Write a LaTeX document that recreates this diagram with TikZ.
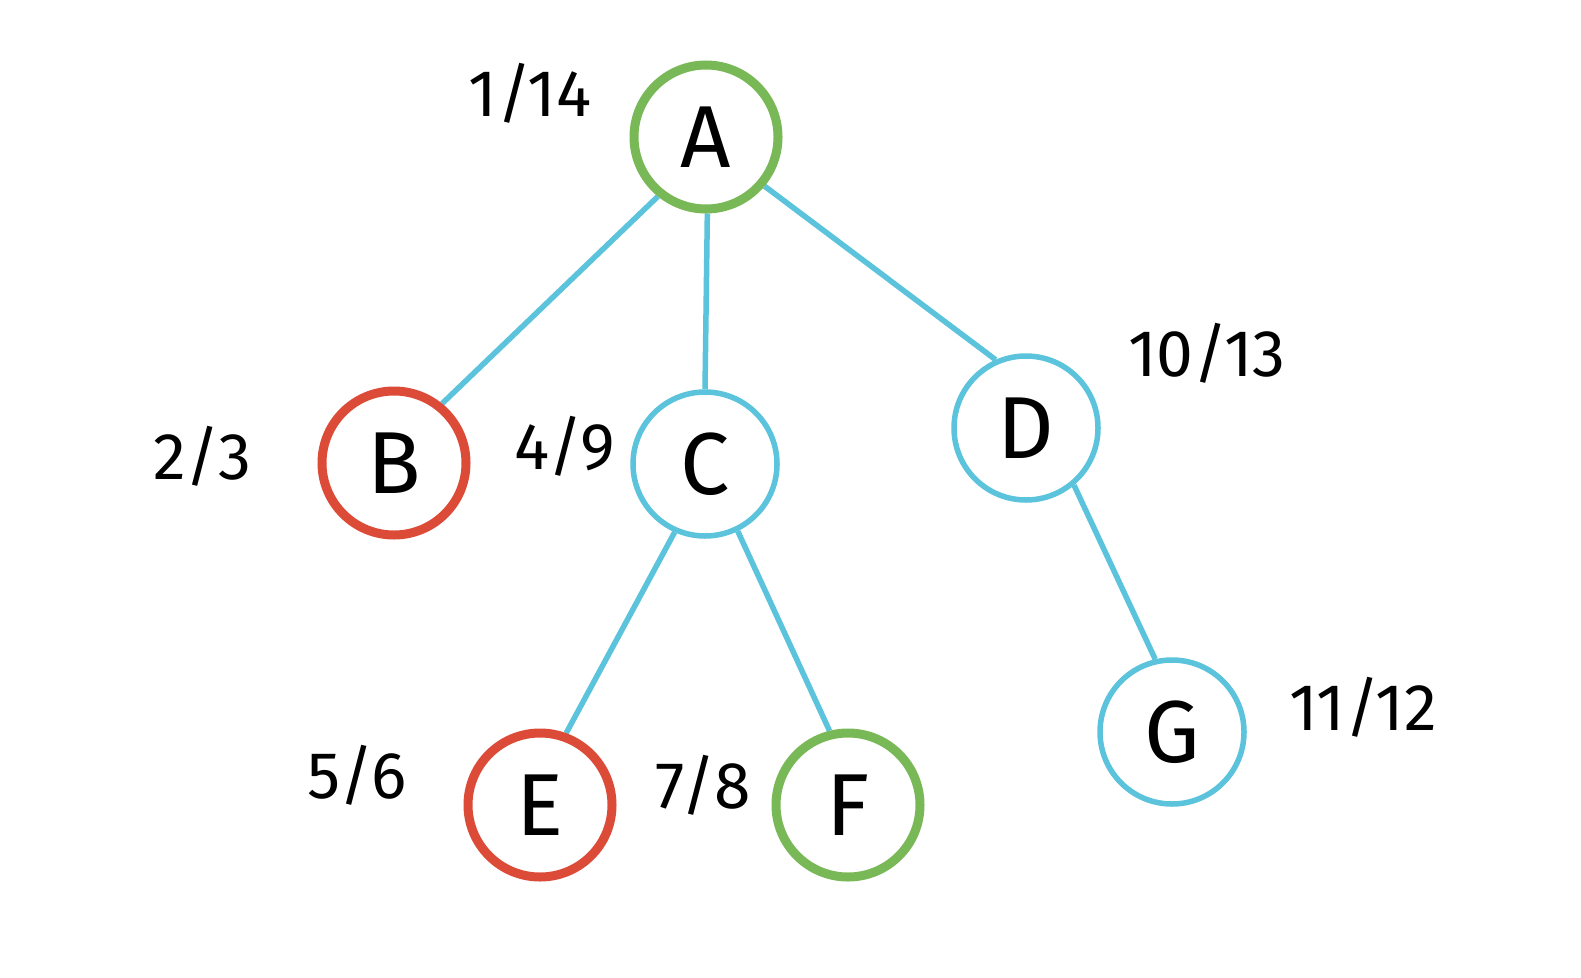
\documentclass[tikz,border=0pt]{standalone}
\usepackage{fontspec}
\setmainfont{Fira Sans}
\usetikzlibrary{backgrounds}
\definecolor{cgreen}{HTML}{78B856}
\definecolor{cred}{HTML}{DC4A38}
\definecolor{cblue}{HTML}{5BC3DB}
\tikzset{
  vert/.style={circle, fill=white, minimum size=144pt, inner sep=0pt, font=\fontsize{88}{88}\selectfont},
  gnode/.style={vert, draw=cgreen, line width=9pt},
  rnode/.style={vert, draw=cred, line width=9pt},
  bnode/.style={vert, draw=cblue, line width=5.5pt},
  edge/.style={draw=cblue, line width=5.5pt},
  lab/.style={font=\fontsize{66}{66}\selectfont, inner sep=0pt}
}
\begin{document}
\begin{tikzpicture}[x=1pt,y=-1pt]
\useasboundingbox (0,0) rectangle (1581,977);
\node[gnode] (A) at (706,137) {A};
\node[rnode] (B) at (394,463) {B};
\node[bnode] (C) at (705,464) {C};
\node[bnode] (D) at (1026,428) {D};
\node[rnode] (E) at (540,805) {E};
\node[gnode] (F) at (848,805) {F};
\node[bnode] (G) at (1172,732) {G};
\begin{scope}[on background layer]
\fill[white] (0,0) rectangle (1581,977);
\draw[edge] (A.-129.7) -- (B.51.9);
\draw[edge] (A.-89) -- (C.90.8);
\draw[edge] (A.-40.7) -- (D.114.5);
\draw[edge] (C.-114.8) -- (E.70.1);
\draw[edge] (C.-64.1) -- (F.104.4);
\draw[edge] (D.-50.4) -- (G.103.5);
\end{scope}
\node[lab] (lA) at (530,93) {1/14};
\node[lab] (lB) at (202,456) {2/3};
\node[lab] (lC) at (565,446) {4/9};
\node[lab] (lD) at (1207,353) {10/13};
\node[lab] (lE) at (357,775) {5/6};
\node[lab] (lF) at (703,785) {7/8};
\node[lab] (lG) at (1363,707) {11/12};
\end{tikzpicture}
\end{document}
